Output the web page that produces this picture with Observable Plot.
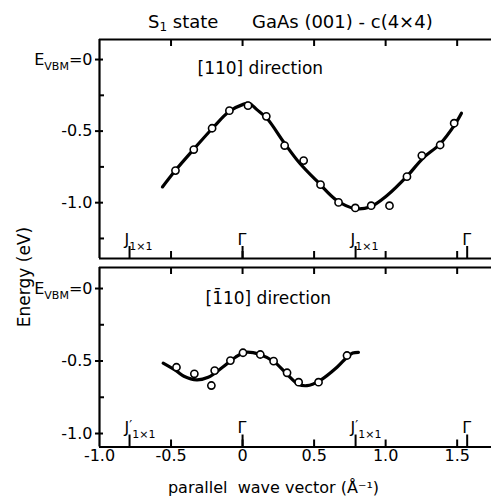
<!DOCTYPE html>
<html><head><meta charset="utf-8">
<script src="https://cdn.jsdelivr.net/npm/d3@7"></script>
<script src="https://cdn.jsdelivr.net/npm/@observablehq/plot@0.6"></script>
<style>
html,body{margin:0;padding:0;background:#fff;}
#wrap{position:relative;width:491px;height:498px;overflow:hidden;font-family:"DejaVu Sans",sans-serif;color:#000;background:#fff;}
#wrap svg{position:absolute;left:0;}
.title{position:absolute;top:10px;font-size:18px;line-height:24px;white-space:nowrap;}
.title sub{font-size:12px;vertical-align:-3px;line-height:0;}
.ylab{position:absolute;left:24px;top:277px;transform:translate(-50%,-50%) rotate(-90deg);font-size:17px;white-space:nowrap;}
</style></head><body><div id="wrap"></div>
<script>
// ---- data ----
const xTicks = [-1.0, -0.5, 0, 0.5, 1.0, 1.5];
const xTickLabels = ["-1.0", "-0.5", "0", "0.5", "1.0", "1.5"];
const yTicks = [0, -0.5, -1.0];
const yTickLabels = ["E_VBM=0", "-0.5", "-1.0"];
const yMinorTop = [-0.25, -0.75, -1.25];
const yMinorBottom = [-0.25, -0.75];
const symX = [-0.79, 0, 0.79, 1.57];
const symLabelsTop = ["J_1x1", "Γ", "J_1x1", "Γ"];
const symLabelsBottom = ["J'_1x1", "Γ", "J'_1x1", "Γ"];

// [110] direction: measured points
const pts110X = [-0.469,-0.341,-0.213,-0.092,0.038,0.166,0.294,0.427,0.545,0.671,0.788,0.899,1.027,1.149,1.253,1.381,1.479];
const pts110Y = [-0.776,-0.629,-0.480,-0.357,-0.322,-0.397,-0.601,-0.706,-0.874,-0.998,-1.037,-1.021,-1.021,-0.818,-0.671,-0.597,-0.445];
// [110] direction: calculated curve
const fit110X = [-0.56,-0.47,-0.34,-0.21,-0.09,0.0,0.045,0.10,0.17,0.29,0.40,0.53,0.66,0.78,0.89,1.01,1.15,1.26,1.38,1.48,1.53];
const fit110Y = [-0.89,-0.775,-0.625,-0.48,-0.36,-0.315,-0.305,-0.35,-0.41,-0.58,-0.725,-0.86,-0.985,-1.04,-1.03,-0.95,-0.815,-0.69,-0.59,-0.46,-0.375];

// [-110] direction: measured points
const ptsM110X = [-0.462,-0.337,-0.218,-0.195,-0.085,0.003,0.124,0.217,0.311,0.392,0.531,0.730];
const ptsM110Y = [-0.543,-0.588,-0.669,-0.566,-0.497,-0.443,-0.455,-0.501,-0.581,-0.646,-0.646,-0.462];
// [-110] direction: calculated curve
const fitM110X = [-0.555,-0.46,-0.41,-0.32,-0.24,-0.14,-0.05,0.02,0.12,0.22,0.31,0.39,0.45,0.54,0.66,0.73,0.77,0.81];
const fitM110Y = [-0.515,-0.57,-0.605,-0.63,-0.612,-0.543,-0.474,-0.44,-0.455,-0.505,-0.59,-0.66,-0.67,-0.635,-0.543,-0.474,-0.445,-0.44];

const xDomain = [-1.0, 1.74];
const yDomainTop = [-1.39, 0.14];
const yDomainBottom = [-1.093, 0.145];

const toRows = (xs, ys) => xs.map((x, i) => ({x, y: ys[i]}));
const FONT = "DejaVu Sans";

function panel({height, marginTop, marginBottom, yDomain, minor, symLabels, pts, fit, label, labelDx, labelDy, bottomAxis}) {
  const frameH = height - marginTop - marginBottom;
  const k = frameH / (yDomain[1] - yDomain[0]);      // px per eV
  const kx = (491 - 99) / (xDomain[1] - xDomain[0]);   // px per unit x
  const lo = yDomain[0], hi = yDomain[1];
  const inner = xTicks.slice(1);
  const marks = [
    Plot.ruleX([xDomain[0]], {strokeWidth: 2.2}),
    Plot.ruleY([lo, hi], {strokeWidth: 2.2}),
    Plot.ruleX(inner, {x: d => d, y1: lo, y2: lo + 7 / k, strokeWidth: 2}),
    Plot.ruleX(inner, {x: d => d, y1: hi, y2: hi - 7 / k, strokeWidth: 2}),
    Plot.ruleX(symX, {x: d => d, y1: lo, y2: lo + 12 / k, strokeWidth: 2}),
    Plot.text(symX, {x: d => d, y: lo, text: (d, i) => symLabels[i], dy: -19, dx: -5,
      textAnchor: "start", lineAnchor: "middle", fontSize: 16}),
    Plot.ruleY(minor, {y: d => d, x1: xDomain[0], x2: xDomain[0] + 5 / kx, strokeWidth: 2}),
    Plot.ruleY(yTicks, {y: d => d, x1: xDomain[0], x2: xDomain[0] + 4 / kx, strokeWidth: 2}),
    Plot.axisY({ticks: yTicks, tickFormat: d => yTickLabels[yTicks.indexOf(d)], tickSize: 4,
      tickPadding: 3, label: null, fontSize: 16, strokeWidth: 2}),
    Plot.text([label], {frameAnchor: "top-left", dx: labelDx, dy: labelDy, lineAnchor: "middle",
      textAnchor: "start", fontSize: 17}),
    Plot.line(fit, {x: "x", y: "y", strokeWidth: 3.2, curve: "catmull-rom"}),
    Plot.dot(pts, {x: "x", y: "y", r: 3.6, fill: "white", stroke: "black", strokeWidth: 1.6})
  ];
  if (bottomAxis) {
    marks.push(Plot.axisX({ticks: xTicks, tickFormat: d => xTickLabels[xTicks.indexOf(d)], tickSize: 0,
      tickPadding: 3, label: null, fontSize: 16}));
    marks.push(Plot.text(["parallel\u00a0\u00a0wave vector (Å⁻¹)"], {frameAnchor: "bottom-left",
      dx: 174, dy: 41, lineAnchor: "middle", textAnchor: "middle", fontSize: 16}));
  }
  return Plot.plot({
    width: 491, height, marginLeft: 99, marginRight: 0, marginTop, marginBottom,
    x: {domain: xDomain, axis: bottomAxis ? undefined : null},
    y: {domain: yDomain},
    style: {fontFamily: FONT, fontSize: "16px", background: "transparent", color: "black", overflow: "visible"},
    marks
  });
}

// render subscripts with tspans
function fixSubscripts(svg) {
  d3.select(svg).selectAll("text").each(function () {
    const s = this.textContent;
    const m = /^([^_]+)_([A-Za-z0-9]+)(.*)$/.exec(s);
    if (!m) return;
    const t = d3.select(this);
    t.text(null);
    let main = m[1];
    if (main.endsWith("'")) {
      t.append("tspan").text(main.slice(0, -1));
      t.append("tspan").attr("font-size", "13px").attr("dy", "-4").text("′");
      t.append("tspan").attr("font-size", "11px").attr("dy", "9").text(m[2].replace("x", "×"));
      if (m[3]) t.append("tspan").attr("dy", "-5").text(m[3]);
    } else {
      t.append("tspan").text(main);
      t.append("tspan").attr("font-size", "11px").attr("dy", "5").text(m[2].replace(/^1x1$/, "1×1"));
      if (m[3]) t.append("tspan").attr("dy", "-5").text(m[3]);
    }
  });
}

const wrap = document.getElementById("wrap");

const p1 = panel({height: 262, marginTop: 39, marginBottom: 4, yDomain: yDomainTop, minor: yMinorTop,
  symLabels: symLabelsTop, pts: toRows(pts110X, pts110Y), fit: toRows(fit110X, fit110Y),
  label: "[110] direction", labelDx: 98, labelDy: 29, bottomAxis: false});
p1.style.top = "0px";
fixSubscripts(p1);
wrap.appendChild(p1);

const p2 = panel({height: 236, marginTop: 5, marginBottom: 51.5, yDomain: yDomainBottom, minor: yMinorBottom,
  symLabels: symLabelsBottom, pts: toRows(ptsM110X, ptsM110Y), fit: toRows(fitM110X, fitM110Y),
  label: "[1\u030410] direction", labelDx: 106, labelDy: 31, bottomAxis: true});
p2.style.top = "262px";
fixSubscripts(p2);
wrap.appendChild(p2);

const t1 = document.createElement("div");
t1.className = "title"; t1.style.left = "148px";
t1.innerHTML = "S<sub>1</sub> state";
wrap.appendChild(t1);
const t2 = document.createElement("div");
t2.className = "title"; t2.style.left = "252px";
t2.textContent = "GaAs (001) - c(4×4)";
wrap.appendChild(t2);
const yl = document.createElement("div");
yl.className = "ylab"; yl.textContent = "Energy (eV)";
wrap.appendChild(yl);
</script></body></html>
